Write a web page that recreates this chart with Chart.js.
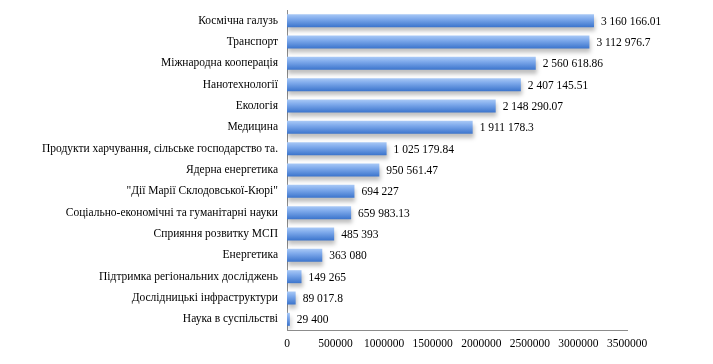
<!DOCTYPE html>
<html>
<head>
<meta charset="utf-8">
<script src="https://cdn.jsdelivr.net/npm/chart.js@4"></script>
<style>
  html, body { margin: 0; padding: 0; background: #fff; }
  #wrap { width: 713px; height: 364px; }
</style>
</head>
<body>
<div id="wrap"><canvas id="chart" width="713" height="364"></canvas></div>
<script>
const categories = [
  "Космічна галузь",
  "Транспорт",
  "Міжнародна кооперація",
  "Нанотехнології",
  "Екологія",
  "Медицина",
  "Продукти харчування, сільське господарство та.",
  "Ядерна енергетика",
  "\"Дії Марії Склодовської-Кюрі\"",
  "Соціально-економічні та гуманітарні науки",
  "Сприяння розвитку МСП",
  "Енергетика",
  "Підтримка регіональних досліджень",
  "Дослідницькі інфраструктури",
  "Наука в суспільстві"
];
const values = [
  3160166.01, 3112976.7, 2560618.86, 2407145.51, 2148290.07, 1911178.3,
  1025179.84, 950561.47, 694227, 659983.13, 485393, 363080, 149265,
  89017.8, 29400
];
const xTicks = [0, 500000, 1000000, 1500000, 2000000, 2500000, 3000000, 3500000];

const FONT = "'Liberation Serif', 'DejaVu Serif', serif";
const FONT_SIZE = 11.5;

// 3160166.01 -> "3 160 166.01"
function fmt(v) {
  const parts = String(v).split(".");
  const intPart = parts[0].replace(/\B(?=(\d{3})+(?!\d))/g, " ");
  return parts.length > 1 ? intPart + "." + parts[1] : intPart;
}

// vertical gradient per bar, placed from the y scale
function barFill(context) {
  const chart = context.chart;
  const y = chart.scales && chart.scales.y;
  if (!y || context.dataIndex === undefined) return "#6a9be0";
  const cy = y.getPixelForValue(context.dataIndex);
  if (!isFinite(cy)) return "#6a9be0";
  const g = chart.ctx.createLinearGradient(0, cy - 6.5, 0, cy + 6.5);
  g.addColorStop(0, "#a9c9f6");
  g.addColorStop(0.35, "#80abec");
  g.addColorStop(1, "#3b74cc");
  return g;
}

const shadowPlugin = {
  id: "barShadow",
  beforeDatasetDraw(chart) {
    const c = chart.ctx;
    c.save();
    c.shadowColor = "rgba(0,0,0,0.25)";
    c.shadowBlur = 4;
    c.shadowOffsetX = 1;
    c.shadowOffsetY = 4;
  },
  afterDatasetDraw(chart) {
    chart.ctx.restore();
  }
};

const valueLabels = {
  id: "valueLabels",
  afterDatasetsDraw(chart) {
    const c = chart.ctx;
    const meta = chart.getDatasetMeta(0);
    c.save();
    c.font = FONT_SIZE + "px " + FONT;
    c.fillStyle = "#000";
    c.textAlign = "left";
    c.textBaseline = "middle";
    meta.data.forEach((bar, i) => {
      c.fillText(fmt(values[i]), bar.x + 7, bar.y + 1);
    });
    c.restore();
  }
};

new Chart(document.getElementById("chart").getContext("2d"), {
  type: "bar",
  data: {
    labels: categories,
    datasets: [{
      data: values,
      backgroundColor: barFill,
      borderWidth: 0,
      barPercentage: 0.61,
      categoryPercentage: 1
    }]
  },
  options: {
    indexAxis: "y",
    responsive: false,
    animation: false,
    layout: { padding: { top: 10, right: 86, bottom: 0, left: 0 } },
    plugins: {
      legend: { display: false },
      tooltip: { enabled: false }
    },
    scales: {
      x: {
        min: 0,
        max: 3500000,
        afterBuildTicks(scale) {
          scale.ticks = xTicks.map(v => ({ value: v }));
        },
        afterFit(scale) {
          scale.height = 34;
          scale.paddingLeft = 0;
          scale.paddingRight = 0;
        },
        grid: { display: false, drawTicks: false },
        border: { display: true, color: "#8c8c8c", width: 1 },
        ticks: {
          padding: 7,
          color: "#000",
          font: { family: FONT, size: FONT_SIZE },
          maxRotation: 0,
          autoSkip: false,
          callback: v => String(v)
        }
      },
      y: {
        afterFit(scale) {
          scale.width = 287;
          scale.paddingTop = 0;
          scale.paddingBottom = 0;
        },
        grid: { display: false, drawTicks: false },
        border: { display: true, color: "#8c8c8c", width: 1 },
        ticks: {
          padding: 9,
          color: "#000",
          font: { family: FONT, size: FONT_SIZE },
          autoSkip: false
        }
      }
    }
  },
  plugins: [shadowPlugin, valueLabels]
});
</script>
</body>
</html>
